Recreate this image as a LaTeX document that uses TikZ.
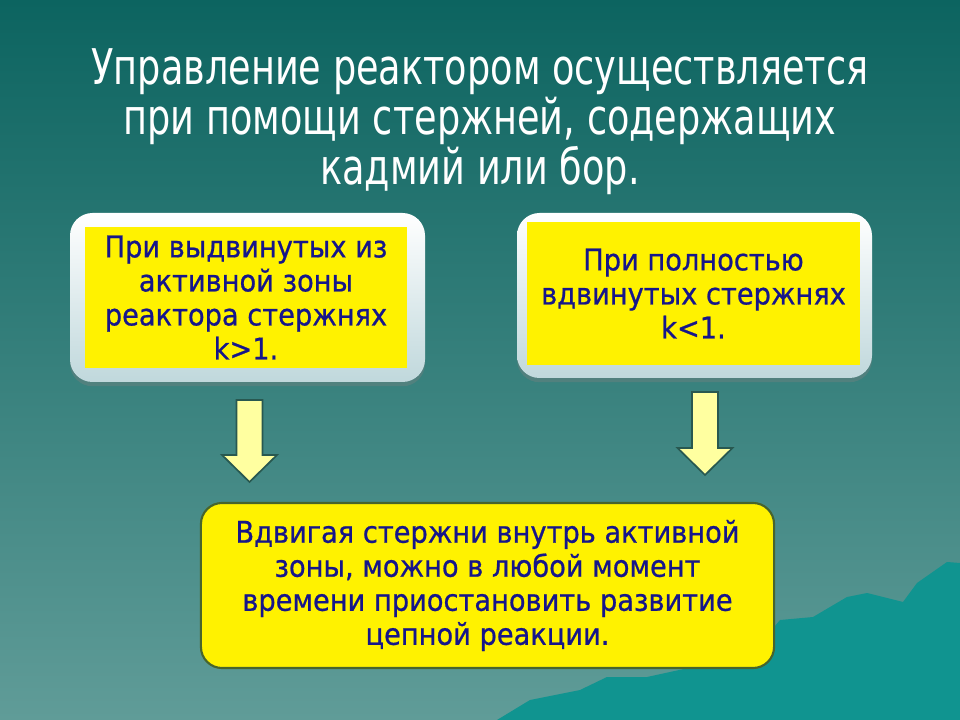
\documentclass[tikz,border=0pt]{standalone}
\usepackage{fontspec}
\setmainfont{DejaVu Sans}
\newfontfamily\titlefont[FakeStretch=0.745]{DejaVu Sans}
\newfontfamily\boxfont[FakeStretch=0.91,FakeBold=0.7]{DejaVu Sans}
\usetikzlibrary{shadows}
\definecolor{bgtop}{RGB}{12,100,96}
\definecolor{bgbot}{RGB}{96,156,152}
\definecolor{mount}{RGB}{16,148,144}
\definecolor{navy}{RGB}{22,22,138}
\definecolor{panelbot}{RGB}{192,216,220}
\definecolor{arrowfill}{RGB}{255,255,160}
\definecolor{arrowline}{RGB}{40,88,80}
\definecolor{olive}{RGB}{72,100,44}
\def\px{0.7113pt}

\begin{document}
\begin{tikzpicture}[x=0.025cm, y=-0.025cm,
  title/.style={font=\titlefont\fontsize{35}{35.6}\selectfont, align=center, text=white},
  panel/.style={top color=white, bottom color=panelbot, rounded corners=16pt,
    drop shadow={shadow xshift=0pt, shadow yshift=-3pt, opacity=0.35}},
  card/.style={fill=yellow, inner sep=0pt, text=navy, align=center,
    font=\boxfont\fontsize{21.3}{24.2}\selectfont},
  result/.style={card, draw=olive, line width=1.5pt, rounded corners=15pt},
  blockarrow/.style={fill=arrowfill, draw=arrowline, line width=1.2pt, line join=miter}
]
\useasboundingbox (0,0) rectangle (960,720);
% background
\shade[top color=bgtop, bottom color=bgbot] (0,0) rectangle (960,720);
\fill[mount] (497,720) -- (530,700) -- (580,690) -- (607,677) -- (647,677)
  -- (693,667) -- (740,667) -- (780,620) -- (813,617) -- (847,597) -- (867,593)
  -- (903,602) -- (917,583) -- (947,562) -- (960,563) -- (960,720) -- cycle;

% title
\node[title] (head) at (480,122) {Управление реактором осуществляется\\при помощи стержней, содержащих\\кадмий или бор.};

% upper boxes
\path[panel] (70,213) rectangle (425,382);
\node[card, minimum width=322*\px, minimum height=141*\px] (out) at (246,297.5)
  {При выдвинутых из\\активной зоны\\реактора стержнях\\k>1.};
\path[panel] (517,213) rectangle (872,378);
\node[card, minimum width=333*\px, minimum height=143*\px] (in) at (693.5,293.5)
  {При полностью\\вдвинутых стержнях\\k<1.};

% lower box
\node[result, minimum width=573*\px, minimum height=165*\px] (stop) at (487.5,585.5)
  {Вдвигая стержни внутрь активной\\зоны, можно в любой момент\\времени приостановить развитие\\цепной реакции.};

% arrows
\coordinate (outarr) at (249.5,400);
\coordinate (inarr) at (705,392);
\draw[blockarrow] (outarr) ++(-13,0) -- ++(26,0) -- ++(0,55) -- ++(14.5,0)
  -- ++(-27.5,27) -- ++(-27.5,-27) -- ++(14.5,0) -- cycle;
\draw[blockarrow] (inarr) ++(-13,0) -- ++(26,0) -- ++(0,56) -- ++(14.5,0)
  -- ++(-27.5,27) -- ++(-27.5,-27) -- ++(14.5,0) -- cycle;
\end{tikzpicture}
\end{document}
